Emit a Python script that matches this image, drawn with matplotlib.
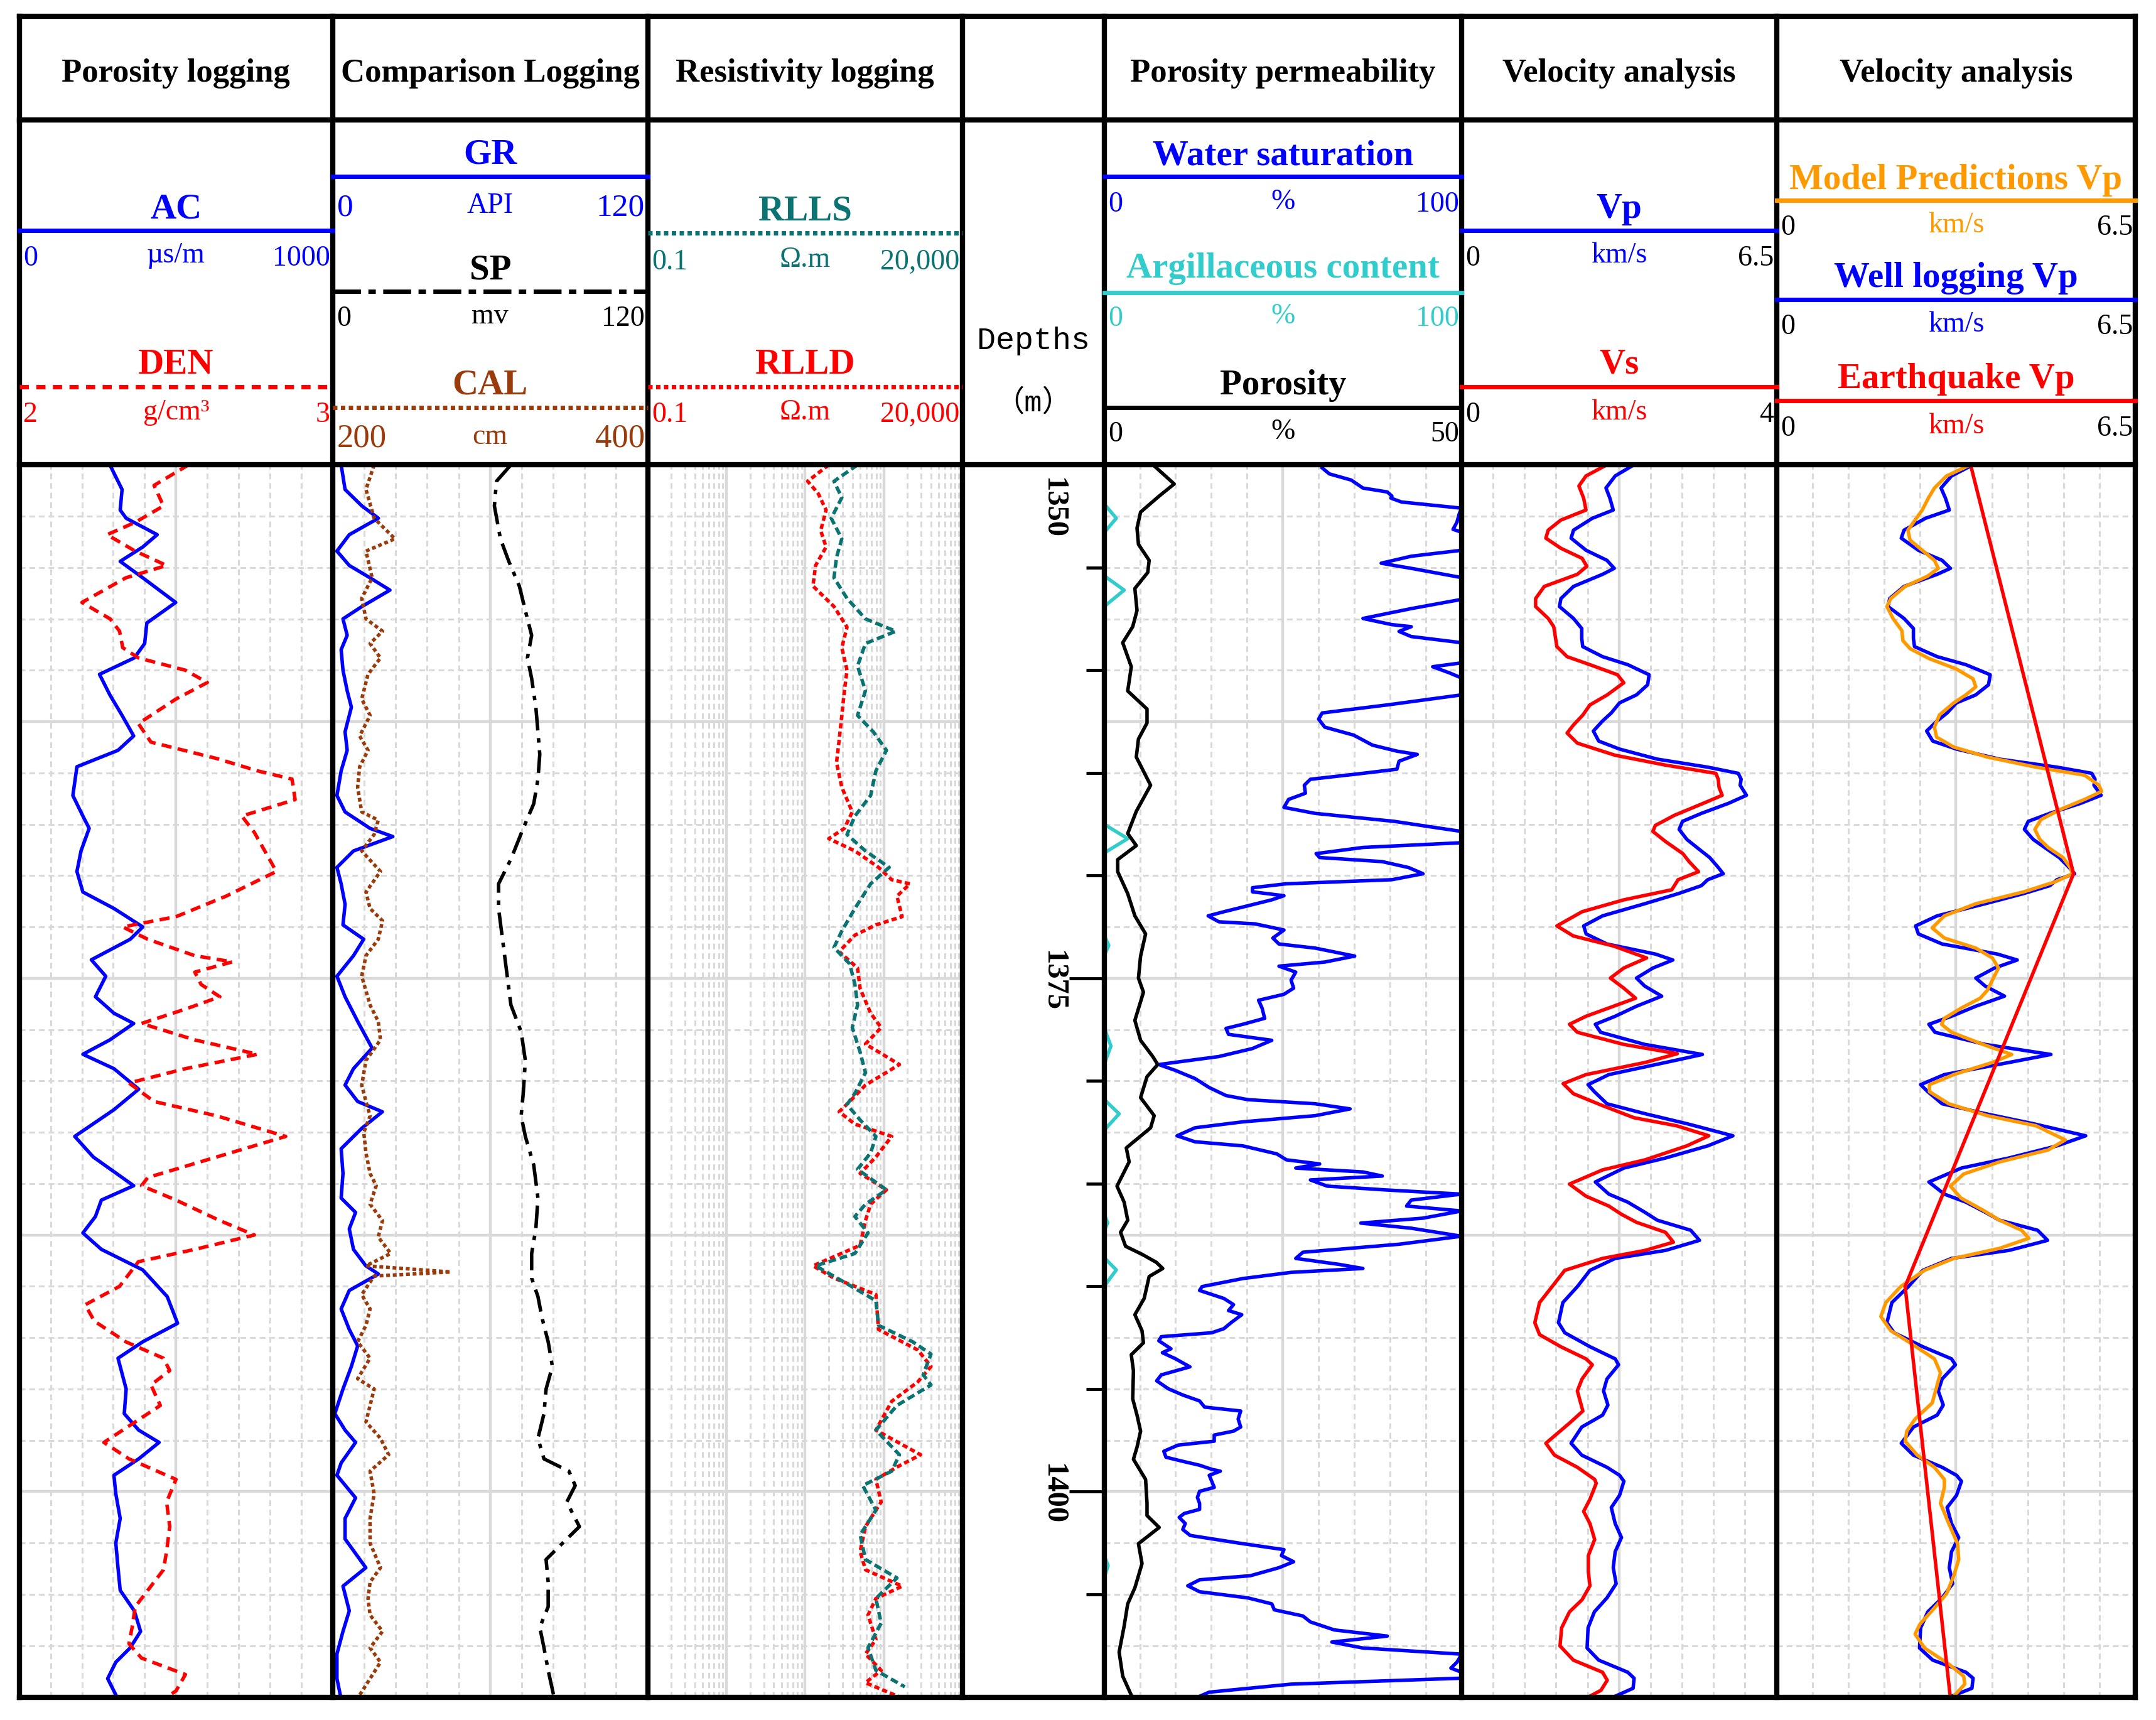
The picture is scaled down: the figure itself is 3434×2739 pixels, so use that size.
import numpy as np
import matplotlib
matplotlib.use("Agg")
import matplotlib.pyplot as plt
from matplotlib.ticker import MultipleLocator, FixedLocator, LogLocator

plt.rcParams['font.family'] = ['Liberation Serif', 'DejaVu Serif']
plt.rcParams['lines.solid_joinstyle'] = 'round'
plt.rcParams['lines.dash_joinstyle'] = 'round'

# ---------------- data: (depth m, value) ----------------
AC_LOG = [(1350.0, 289), (1351.2, 328), (1352.2, 322), (1352.6, 341), (1353.4, 440), (1354.0, 394),
          (1354.7, 322), (1355.5, 394), (1356.7, 499), (1357.7, 407), (1358.7, 400), (1359.4, 367),
          (1360.2, 256), (1361.2, 289), (1362.2, 328), (1363.2, 365), (1363.9, 315), (1364.7, 184),
          (1366.1, 171), (1367.1, 203), (1367.7, 223), (1368.8, 197), (1369.8, 184), (1370.8, 203),
          (1371.6, 302), (1372.5, 394), (1373.1, 354), (1374.1, 230), (1374.9, 276), (1375.9, 243),
          (1376.7, 302), (1377.2, 365), (1378.0, 289), (1378.7, 203), (1379.4, 302), (1380.4, 381),
          (1381.4, 302), (1382.7, 177), (1383.7, 236), (1385.1, 365), (1385.8, 262), (1386.6, 243),
          (1387.4, 203), (1388.2, 262), (1389.2, 394), (1390.5, 472), (1391.8, 505), (1392.7, 394),
          (1393.5, 315), (1395.0, 341), (1396.2, 335), (1397.0, 381), (1397.6, 446), (1398.4, 381),
          (1399.2, 302), (1400.1, 308), (1401.3, 322), (1402.5, 308), (1403.7, 315), (1404.8, 322),
          (1405.8, 367), (1406.8, 387), (1407.6, 354), (1408.3, 308), (1409.1, 282), (1410.1, 315)]

DEN_LOG = [(1350.0, 2.54), (1351.0, 2.43), (1352.0, 2.46), (1352.8, 2.37), (1353.4, 2.28), (1354.2, 2.37),
           (1354.9, 2.47), (1355.5, 2.34), (1356.7, 2.20), (1357.5, 2.29), (1358.1, 2.32), (1358.9, 2.33),
           (1359.4, 2.38), (1360.0, 2.53), (1360.6, 2.60), (1361.4, 2.50), (1362.6, 2.38), (1363.5, 2.42),
           (1364.3, 2.63), (1364.9, 2.76), (1365.3, 2.87), (1366.3, 2.88), (1367.1, 2.71), (1367.9, 2.75),
           (1369.8, 2.82), (1371.0, 2.66), (1372.0, 2.50), (1372.5, 2.33), (1373.1, 2.41), (1373.9, 2.56),
           (1374.2, 2.68), (1374.7, 2.56), (1375.3, 2.58), (1375.9, 2.64), (1376.5, 2.53), (1377.2, 2.39),
           (1378.0, 2.56), (1378.7, 2.76), (1379.4, 2.53), (1380.1, 2.35), (1381.0, 2.43), (1381.7, 2.63),
           (1382.7, 2.85), (1383.7, 2.63), (1384.7, 2.41), (1385.1, 2.39), (1385.8, 2.50), (1386.8, 2.64),
           (1387.5, 2.75), (1388.2, 2.56), (1388.8, 2.38), (1390.0, 2.32), (1390.9, 2.21), (1391.7, 2.24),
           (1392.7, 2.34), (1393.5, 2.46), (1394.1, 2.48), (1394.8, 2.42), (1395.8, 2.45), (1396.8, 2.35),
           (1397.6, 2.27), (1398.4, 2.35), (1399.4, 2.50), (1400.5, 2.47), (1401.7, 2.48), (1402.9, 2.47),
           (1403.8, 2.46), (1404.8, 2.41), (1405.6, 2.37), (1406.6, 2.36), (1407.4, 2.35), (1408.1, 2.39),
           (1408.9, 2.53), (1409.7, 2.50), (1410.1, 2.46)]

GR_LOG = [(1350.0, 3.2), (1351.2, 4.7), (1352.0, 11.1), (1352.6, 17.4), (1353.4, 6.3), (1354.2, 1.6),
          (1354.9, 6.3), (1355.5, 14.2), (1356.1, 21.8), (1356.9, 11.1), (1357.5, 3.9), (1358.3, 5.5),
          (1359.0, 3.2), (1360.0, 3.9), (1361.0, 5.5), (1361.8, 7.1), (1363.0, 4.7), (1363.9, 5.5),
          (1364.9, 3.2), (1366.1, 1.6), (1366.9, 4.7), (1367.7, 14.2), (1368.1, 22.9), (1368.8, 7.9),
          (1369.6, 1.6), (1370.4, 3.2), (1371.4, 4.7), (1372.4, 3.9), (1373.1, 11.8), (1373.9, 7.9),
          (1374.9, 1.6), (1375.9, 4.7), (1377.1, 9.5), (1378.4, 15.0), (1379.4, 7.9), (1380.2, 4.7),
          (1381.0, 9.5), (1381.5, 18.9), (1382.3, 11.1), (1383.3, 3.2), (1384.5, 3.9), (1385.7, 3.2),
          (1386.4, 8.7), (1387.2, 6.3), (1388.2, 7.9), (1389.0, 12.6), (1389.4, 17.4), (1390.2, 6.3),
          (1391.1, 3.2), (1392.1, 6.3), (1392.9, 9.5), (1393.9, 7.1), (1395.0, 3.9), (1396.2, 0.8),
          (1397.0, 4.7), (1397.6, 8.7), (1398.6, 3.2), (1399.2, 1.6), (1400.3, 8.7), (1401.3, 4.7),
          (1402.3, 4.7), (1403.7, 12.6), (1404.6, 3.9), (1405.8, 6.3), (1406.8, 3.9), (1407.9, 1.6),
          (1409.1, 1.6), (1410.1, 3.2)]

CAL_LOG = [(1350.0, 226.3), (1351.2, 221.1), (1352.6, 226.3), (1353.6, 239.5), (1354.2, 221.1),
           (1355.5, 225.0), (1356.5, 218.4), (1357.5, 221.1), (1358.1, 231.6), (1358.7, 223.7),
           (1359.4, 230.3), (1360.2, 222.4), (1361.4, 218.4), (1362.2, 223.7), (1363.2, 217.1),
           (1363.9, 222.4), (1364.7, 217.1), (1365.7, 215.8), (1366.9, 218.4), (1367.3, 228.9),
           (1368.0, 226.3), (1368.8, 218.4), (1369.8, 230.3), (1370.8, 221.1), (1371.6, 223.7),
           (1372.2, 231.6), (1373.1, 228.9), (1373.9, 221.1), (1374.9, 218.4), (1376.3, 223.7),
           (1377.1, 228.9), (1378.0, 230.3), (1379.0, 221.1), (1380.2, 218.4), (1381.0, 221.1),
           (1381.7, 223.7), (1382.5, 219.7), (1383.5, 221.1), (1384.5, 223.7), (1385.1, 227.6),
           (1386.0, 223.7), (1386.8, 231.6), (1387.6, 228.9), (1388.4, 236.8), (1389.0, 221.1),
           (1389.3, 275.0), (1389.5, 226.3), (1390.4, 218.4), (1391.1, 223.7), (1391.9, 221.1),
           (1392.7, 215.8), (1393.5, 223.7), (1394.5, 215.8), (1395.0, 226.3), (1395.8, 223.7),
           (1396.6, 221.1), (1397.4, 230.3), (1398.2, 235.5), (1399.0, 223.7), (1400.1, 226.3),
           (1401.3, 223.7), (1402.5, 223.7), (1403.7, 230.3), (1404.4, 223.7), (1405.2, 222.4),
           (1406.0, 223.7), (1406.8, 231.6), (1407.6, 223.7), (1408.3, 230.3), (1409.1, 223.7),
           (1409.9, 217.1)]

SP_LOG = [(1350.0, 67.9), (1350.8, 62.4), (1352.0, 61.6), (1353.6, 63.9), (1354.7, 67.1), (1355.9, 71.1),
          (1357.1, 73.4), (1358.3, 75.8), (1359.4, 74.2), (1360.4, 75.8), (1361.8, 77.4), (1363.0, 78.2),
          (1364.1, 78.9), (1365.3, 78.2), (1366.5, 76.6), (1367.7, 72.6), (1369.2, 67.9), (1370.4, 63.2),
          (1371.6, 63.2), (1373.1, 64.7), (1374.7, 66.3), (1376.3, 67.9), (1377.6, 71.8), (1379.0, 73.4),
          (1380.6, 72.6), (1381.7, 71.8), (1382.7, 73.4), (1384.1, 76.6), (1385.7, 78.2), (1387.2, 77.4),
          (1388.4, 75.8), (1389.6, 75.8), (1390.5, 78.2), (1391.5, 79.7), (1392.7, 82.1), (1393.9, 83.7),
          (1395.0, 81.3), (1396.2, 80.5), (1397.4, 78.2), (1398.4, 80.5), (1399.0, 90.0), (1399.7, 92.4),
          (1400.5, 89.2), (1401.7, 94.0), (1402.5, 87.6), (1403.3, 81.3), (1404.4, 82.1), (1405.6, 82.1),
          (1406.6, 78.9), (1407.6, 80.5), (1408.7, 82.1), (1410.1, 84.5)]

RLLD_LOG = [(1350.0, 20.0), (1350.8, 10.8), (1351.4, 14.7), (1352.2, 18.5), (1353.2, 15.8), (1354.0, 18.5),
            (1354.9, 13.6), (1355.9, 12.6), (1356.9, 23.3), (1357.9, 34.1), (1358.9, 29.3), (1360.0, 34.1),
            (1361.0, 31.6), (1362.2, 29.3), (1363.4, 27.1), (1364.5, 25.1), (1365.7, 29.3), (1366.9, 39.8),
            (1367.7, 31.6), (1368.2, 20.0), (1368.8, 43.0), (1369.6, 85.8), (1370.2, 126), (1370.4, 215),
            (1371.0, 147), (1372.0, 171), (1372.4, 79.4), (1372.9, 43.0), (1373.7, 27.1), (1374.5, 46.4),
            (1375.5, 50.1), (1376.7, 68.1), (1377.4, 92.6), (1378.2, 58.5), (1379.2, 158), (1380.2, 58.5),
            (1381.0, 36.9), (1381.5, 27.1), (1382.1, 43.0), (1382.7, 126), (1383.7, 79.4), (1384.5, 50.1),
            (1385.3, 108), (1386.0, 68.1), (1386.8, 58.5), (1388.0, 50.1), (1389.0, 12.6), (1389.6, 23.3),
            (1390.4, 79.4), (1392.1, 85.8), (1393.1, 271), (1393.9, 398), (1394.65, 271), (1395.6, 126),
            (1397.0, 79.4), (1398.2, 293), (1398.8, 147), (1399.4, 79.4), (1400.5, 92.6), (1401.7, 58.5),
            (1402.9, 50.1), (1403.8, 58.5), (1404.6, 171), (1405.2, 79.4), (1406.0, 63.1), (1407.2, 79.4),
            (1407.9, 58.5), (1408.7, 92.6), (1409.3, 58.5), (1410.1, 185)]

RLLS_LOG = [(1350.0, 46.4), (1350.8, 23.3), (1351.6, 29.3), (1352.6, 21.5), (1353.6, 29.3), (1354.5, 25.1),
            (1355.5, 23.3), (1356.5, 34.1), (1357.5, 58.5), (1358.1, 142), (1358.7, 58.5), (1359.8, 46.4),
            (1361.0, 58.5), (1362.2, 46.4), (1363.0, 73.6), (1363.9, 108), (1364.9, 79.4), (1366.1, 68.1),
            (1367.1, 43.0), (1368.0, 34.1), (1368.8, 58.5), (1369.6, 117), (1370.4, 68.1), (1371.6, 43.0),
            (1372.7, 29.3), (1373.5, 23.3), (1374.3, 36.9), (1375.3, 43.0), (1376.3, 46.4), (1377.4, 39.8),
            (1378.6, 50.1), (1379.6, 58.5), (1380.6, 43.0), (1381.15, 34.1), (1381.9, 50.1), (1382.7, 79.4),
            (1383.5, 68.1), (1384.3, 46.4), (1385.3, 108), (1386.0, 58.5), (1386.6, 43.0), (1387.4, 63.1),
            (1388.4, 43.0), (1389.0, 13.6), (1389.8, 31.6), (1390.7, 79.4), (1391.9, 85.8), (1392.7, 233),
            (1393.3, 398), (1394.3, 316), (1394.8, 398), (1395.8, 147), (1397.0, 79.4), (1398.2, 158),
            (1399.0, 126), (1399.7, 54.1), (1400.9, 79.4), (1402.1, 50.1), (1403.3, 58.5), (1404.2, 147),
            (1405.2, 79.4), (1406.4, 92.6), (1407.6, 63.1), (1408.7, 79.4), (1409.5, 185)]

SW_LOG = [(1350.15, 61.0), (1350.44, 63.0), (1350.74, 69.1), (1351.13, 72.4), (1351.32, 79.2), (1351.52, 80.5),
          (1351.62, 80.2), (1351.81, 83.2), (1352.11, 100), (1352.4, 99.3), (1352.79, 98.7), (1353.14, 97.6),
          (1353.28, 100), (1354.16, 100), (1354.45, 85.9), (1354.79, 77.5), (1355.04, 85.9), (1355.49, 100),
          (1356.55, 100), (1357.0, 85.9), (1357.48, 72.4), (1357.78, 80.5), (1357.88, 85.9), (1358.11, 82.5),
          (1358.36, 85.9), (1358.66, 100), (1359.64, 100), (1359.83, 91.9), (1360.13, 96.6), (1360.38, 100),
          (1361.2, 100), (1361.69, 79.2), (1362.08, 61.0), (1362.38, 60.0), (1362.77, 61.7), (1363.16, 69.8),
          (1363.65, 75.1), (1363.94, 81.9), (1364.1, 87.6), (1364.43, 82.5), (1364.82, 81.9), (1365.02, 72.4),
          (1365.31, 57.7), (1365.6, 56.0), (1365.99, 56.3), (1366.29, 51.6), (1366.68, 50.3), (1366.97, 59.0),
          (1367.36, 81.2), (1367.66, 92.6), (1367.85, 100), (1368.4, 100), (1368.63, 72.4), (1368.93, 59.3),
          (1369.12, 60.3), (1369.32, 77.8), (1369.61, 85.2), (1369.91, 89.2), (1370.2, 80.5), (1370.4, 50.9),
          (1370.59, 41.5), (1370.79, 41.5), (1370.98, 50.3), (1371.18, 46.9), (1371.47, 40.2), (1371.76, 33.5),
          (1371.96, 29.1), (1372.25, 32.1), (1372.35, 42.2), (1372.65, 50.3), (1373.04, 47.2), (1373.33, 48.9),
          (1373.53, 59.0), (1373.92, 70.1), (1374.21, 61.7), (1374.41, 48.9), (1374.7, 53.6), (1375.09, 52.3),
          (1375.48, 53.0), (1375.78, 50.3), (1376.07, 43.2), (1376.46, 44.2), (1376.95, 44.9), (1377.24, 38.8),
          (1377.44, 34.1), (1377.73, 34.8), (1378.02, 46.9), (1378.42, 41.5), (1378.81, 32.1), (1379.2, 15.3),
          (1379.49, 20.0), (1379.88, 25.4), (1380.32, 29.4), (1380.71, 34.1), (1380.91, 40.2), (1381.11, 59.0),
          (1381.36, 68.8), (1381.69, 59.0), (1381.99, 38.8), (1382.28, 25.4), (1382.67, 20.4), (1382.96, 25.4),
          (1383.16, 38.8), (1383.55, 48.3), (1383.84, 51.0), (1384.04, 60.3), (1384.24, 53.6), (1384.43, 72.4),
          (1384.63, 77.8), (1384.82, 57.7), (1385.12, 62.4), (1385.31, 79.2), (1385.51, 100), (1385.8, 85.9),
          (1386.09, 84.6), (1386.33, 100), (1386.68, 89.2), (1386.92, 71.8), (1387.17, 85.9), (1387.56, 100),
          (1387.95, 82.5), (1388.34, 55.6), (1388.64, 53.6), (1388.93, 65.7), (1389.13, 72.4), (1389.32, 52.3),
          (1389.62, 38.8), (1390.01, 27.4), (1390.2, 26.7), (1390.59, 33.5), (1390.89, 36.2), (1391.18, 34.8),
          (1391.38, 38.5), (1391.77, 35.5), (1392.06, 33.5), (1392.26, 30.1), (1392.45, 16.0), (1392.65, 15.3),
          (1393.04, 18.7), (1393.23, 16.3), (1393.53, 20.0), (1393.92, 24.0), (1394.31, 16.0), (1394.6, 14.7),
          (1394.99, 18.0), (1395.29, 22.0), (1395.58, 26.7), (1395.88, 28.1), (1396.07, 38.2), (1396.46, 37.5),
          (1396.85, 38.2), (1397.05, 36.2), (1397.24, 30.8), (1397.54, 30.8), (1397.73, 20.7), (1398.03, 16.7),
          (1398.32, 17.3), (1398.52, 22.0), (1398.71, 26.7), (1398.91, 30.1), (1399.0, 32.5), (1399.2, 29.4),
          (1399.49, 30.1), (1399.79, 30.8), (1399.98, 26.7), (1400.28, 26.1), (1400.57, 26.7), (1400.86, 26.7),
          (1401.06, 22.4), (1401.25, 21.0), (1401.55, 22.7), (1401.84, 22.0), (1402.13, 24.1), (1402.53, 38.8),
          (1402.82, 50.3), (1403.11, 49.6), (1403.41, 53.0), (1403.7, 48.9), (1404.09, 40.9), (1404.29, 26.7),
          (1404.58, 23.4), (1404.87, 26.7), (1405.17, 40.2), (1405.46, 46.9), (1405.75, 47.6), (1406.05, 55.6),
          (1406.34, 57.7), (1406.73, 64.4), (1407.03, 79.2), (1407.32, 63.7), (1407.61, 72.4), (1407.91, 100),
          (1408.3, 98.7), (1408.59, 97.0), (1408.79, 100), (1409.08, 100), (1409.37, 52.3), (1409.76, 29.4),
          (1410.06, 25.4)]

CLAY_LOG = [(1350.0, 0), (1351.9, 0), (1352.6, 3.4), (1353.3, 0), (1355.4, 0), (1356.1, 5.6), (1356.9, 0),
            (1367.5, 0), (1368.2, 6.6), (1368.9, 0), (1372.9, 0), (1373.4, 1.3), (1373.9, 0), (1377.4, 0),
            (1378.3, 1.9), (1379.2, 0), (1380.9, 0), (1381.6, 4.2), (1382.4, 0), (1386.5, 0), (1386.9, 1.0),
            (1387.3, 0), (1388.6, 0), (1389.2, 3.4), (1390.0, 0), (1403.1, 0), (1403.6, 1.1), (1404.2, 0),
            (1410.0, 0)]

POR_LOG = [(1350.05, 7.0), (1350.93, 9.8), (1351.52, 7.7), (1352.3, 5.1), (1353.08, 4.6), (1353.87, 4.8),
           (1354.65, 6.3), (1355.24, 6.1), (1356.02, 4.3), (1357.09, 4.6), (1357.88, 4.0), (1358.66, 2.6),
           (1359.83, 3.8), (1361.01, 3.3), (1361.89, 6.0), (1362.57, 6.0), (1363.35, 4.8), (1364.23, 4.5),
           (1365.6, 6.5), (1366.87, 4.5), (1367.95, 3.3), (1368.54, 4.5), (1369.22, 1.9), (1369.81, 1.9),
           (1370.88, 3.3), (1371.96, 4.3), (1372.84, 5.8), (1373.92, 5.1), (1374.99, 4.8), (1375.68, 5.5),
           (1377.05, 4.3), (1378.02, 5.1), (1378.81, 6.8), (1379.2, 7.5), (1379.79, 6.0), (1380.81, 5.1),
           (1381.69, 7.0), (1382.28, 6.5), (1383.26, 3.1), (1383.94, 3.5), (1385.12, 1.8), (1385.9, 2.8),
           (1386.78, 3.3), (1387.37, 2.3), (1388.05, 3.0), (1388.44, 5.3), (1388.83, 7.3), (1389.13, 8.2),
           (1389.52, 6.3), (1390.59, 5.6), (1391.38, 4.3), (1392.16, 5.3), (1392.75, 5.5), (1393.33, 3.8),
           (1394.11, 4.1), (1395.48, 4.0), (1396.27, 4.6), (1397.05, 5.1), (1397.83, 4.6), (1398.42, 4.1),
           (1399.4, 5.8), (1400.57, 6.0), (1401.16, 6.0), (1401.74, 7.7), (1402.53, 4.8), (1403.5, 5.3),
           (1404.68, 4.3), (1405.46, 3.3), (1406.54, 2.8), (1407.81, 2.1), (1408.98, 2.6), (1410.06, 4.0)]

VP_LOG = [(1350.05, 3.52), (1350.54, 3.17), (1351.13, 2.98), (1351.62, 3.06), (1352.2, 3.13), (1352.6, 2.70),
          (1353.18, 2.31), (1353.57, 2.26), (1354.16, 2.57), (1354.65, 3.00), (1355.04, 3.15), (1355.33, 2.91),
          (1355.92, 2.31), (1356.51, 2.05), (1356.9, 2.02), (1357.48, 2.31), (1357.97, 2.48), (1358.46, 2.48),
          (1358.85, 2.50), (1359.34, 2.91), (1359.73, 3.43), (1360.22, 3.87), (1360.71, 3.84), (1361.2, 3.61),
          (1361.59, 3.26), (1362.08, 3.09), (1362.47, 2.91), (1362.96, 2.72), (1363.45, 2.83), (1363.84, 3.26),
          (1364.33, 4.04), (1364.72, 5.08), (1365.02, 5.71), (1365.31, 5.77), (1365.6, 5.75), (1366.09, 5.88),
          (1366.48, 5.51), (1366.97, 4.95), (1367.36, 4.56), (1367.75, 4.49), (1368.24, 4.65), (1368.73, 4.91),
          (1369.12, 5.12), (1369.61, 5.30), (1369.91, 5.40), (1370.2, 5.08), (1370.49, 4.95), (1370.88, 4.47),
          (1371.37, 3.78), (1371.96, 2.91), (1372.45, 2.52), (1372.84, 2.57), (1373.33, 3.00), (1373.82, 4.00),
          (1374.11, 4.36), (1374.5, 3.95), (1374.99, 3.61), (1375.38, 3.78), (1375.87, 4.13), (1376.36, 3.61),
          (1376.85, 3.17), (1377.24, 2.76), (1377.63, 2.87), (1378.22, 3.78), (1378.71, 4.97), (1379.1, 4.21),
          (1379.69, 3.04), (1380.18, 2.61), (1380.52, 2.74), (1381.11, 3.00), (1381.59, 3.78), (1382.08, 4.65),
          (1382.67, 5.60), (1383.16, 5.08), (1383.75, 4.21), (1384.24, 3.35), (1384.92, 2.76), (1385.51, 3.04),
          (1385.9, 3.43), (1386.39, 3.78), (1386.78, 4.04), (1387.27, 4.73), (1387.76, 4.91), (1388.25, 4.21),
          (1388.64, 3.17), (1389.22, 2.65), (1390.01, 2.39), (1390.79, 2.09), (1391.77, 2.00), (1392.26, 2.13),
          (1392.94, 2.65), (1393.53, 3.17), (1393.82, 3.24), (1394.51, 3.00), (1395.09, 2.93), (1395.78, 3.02),
          (1396.27, 2.91), (1396.85, 2.48), (1397.64, 2.26), (1398.22, 2.48), (1398.81, 3.00), (1399.2, 3.26),
          (1399.49, 3.35), (1400.18, 3.26), (1400.77, 3.09), (1401.55, 3.17), (1402.23, 3.30), (1402.92, 3.17),
          (1403.7, 3.13), (1404.48, 3.19), (1405.17, 3.00), (1405.85, 2.74), (1406.63, 2.61), (1407.61, 2.59),
          (1408.2, 2.83), (1408.79, 3.43), (1409.08, 3.56), (1409.57, 3.54), (1409.96, 3.17)]

VS_LOG = [(1350.05, 1.82), (1350.54, 1.58), (1351.03, 1.49), (1351.62, 1.55), (1352.2, 1.58), (1352.69, 1.26),
          (1353.18, 1.10), (1353.57, 1.07), (1354.06, 1.26), (1354.55, 1.53), (1354.94, 1.59), (1355.33, 1.47),
          (1355.92, 1.05), (1356.51, 0.94), (1356.9, 0.94), (1357.48, 1.10), (1357.88, 1.17), (1358.36, 1.19),
          (1358.85, 1.21), (1359.34, 1.34), (1359.73, 1.63), (1360.22, 1.98), (1360.61, 2.06), (1361.2, 1.85),
          (1361.69, 1.63), (1362.18, 1.54), (1362.67, 1.42), (1363.06, 1.34), (1363.55, 1.47), (1364.14, 1.95),
          (1364.62, 2.59), (1365.02, 3.23), (1365.31, 3.26), (1365.7, 3.27), (1366.09, 3.31), (1366.48, 3.07),
          (1367.07, 2.70), (1367.56, 2.46), (1367.85, 2.43), (1368.34, 2.59), (1368.93, 2.81), (1369.32, 2.89),
          (1369.81, 3.01), (1370.2, 2.75), (1370.69, 2.67), (1371.18, 2.06), (1371.76, 1.53), (1372.45, 1.21),
          (1372.94, 1.42), (1373.43, 1.93), (1374.01, 2.35), (1374.5, 2.06), (1374.99, 1.89), (1375.48, 2.06),
          (1375.97, 2.21), (1376.36, 1.93), (1376.85, 1.58), (1377.24, 1.37), (1377.63, 1.47), (1378.22, 2.06),
          (1378.67, 2.74), (1379.1, 2.33), (1379.69, 1.58), (1380.13, 1.29), (1380.62, 1.42), (1381.2, 1.79),
          (1381.79, 2.19), (1382.18, 2.73), (1382.67, 3.14), (1383.16, 2.86), (1383.84, 2.33), (1384.33, 1.79),
          (1385.02, 1.37), (1385.61, 1.58), (1386.09, 1.87), (1386.49, 2.03), (1386.88, 2.22), (1387.37, 2.59),
          (1387.85, 2.69), (1388.25, 2.33), (1388.64, 1.79), (1389.22, 1.31), (1390.01, 1.15), (1390.79, 0.99),
          (1391.77, 0.93), (1392.35, 0.99), (1392.94, 1.26), (1393.53, 1.58), (1393.82, 1.66), (1394.51, 1.53),
          (1395.09, 1.47), (1396.07, 1.54), (1396.66, 1.37), (1397.64, 1.07), (1398.22, 1.18), (1398.81, 1.47),
          (1399.4, 1.69), (1399.59, 1.71), (1400.37, 1.63), (1400.96, 1.55), (1401.55, 1.63), (1402.33, 1.69),
          (1403.11, 1.61), (1403.9, 1.61), (1404.58, 1.63), (1405.26, 1.53), (1405.85, 1.37), (1406.63, 1.27),
          (1407.51, 1.25), (1408.2, 1.42), (1408.79, 1.79), (1409.18, 1.85), (1409.67, 1.77), (1410.06, 1.58)]

MODEL_VP_LOG = [(1350.05, 3.47), (1350.54, 3.08), (1351.13, 2.86), (1351.62, 2.75), (1352.2, 2.64), (1352.69, 2.51),
                (1353.18, 2.38), (1353.67, 2.42), (1354.16, 2.64), (1354.65, 2.86), (1355.04, 2.93), (1355.43, 2.73),
                (1355.92, 2.33), (1356.51, 2.07), (1356.9, 2.00), (1357.48, 2.11), (1358.07, 2.27), (1358.56, 2.29),
                (1358.95, 2.42), (1359.44, 2.77), (1359.93, 3.25), (1360.42, 3.56), (1360.81, 3.61), (1361.2, 3.43),
                (1361.59, 3.21), (1362.18, 2.95), (1362.77, 2.86), (1363.26, 2.90), (1363.74, 3.21), (1364.23, 3.82),
                (1364.72, 4.70), (1365.11, 5.58), (1365.6, 5.84), (1365.9, 5.89), (1366.29, 5.58), (1366.78, 5.14),
                (1367.27, 4.79), (1367.75, 4.68), (1368.24, 4.77), (1368.63, 4.92), (1369.12, 5.19), (1369.61, 5.32),
                (1369.91, 5.36), (1370.3, 5.05), (1370.79, 4.48), (1371.37, 3.61), (1371.96, 3.04), (1372.55, 2.82),
                (1373.04, 3.04), (1373.53, 3.61), (1374.01, 3.91), (1374.5, 4.02), (1375.09, 3.91), (1375.58, 3.82),
                (1375.97, 3.69), (1376.46, 3.34), (1376.95, 3.04), (1377.24, 2.99), (1377.63, 3.17), (1378.22, 3.74),
                (1378.71, 4.26), (1379.1, 3.91), (1379.69, 3.21), (1380.18, 2.77), (1380.52, 2.77), (1381.11, 3.12),
                (1381.69, 3.82), (1382.18, 4.70), (1382.87, 5.23), (1383.36, 4.92), (1383.94, 4.04), (1384.53, 3.39),
                (1385.12, 3.15), (1385.7, 3.34), (1386.29, 3.74), (1386.78, 4.04), (1387.27, 4.44), (1387.66, 4.57),
                (1388.15, 4.04), (1388.64, 3.21), (1389.22, 2.68), (1390.01, 2.25), (1390.79, 1.98), (1391.47, 1.89),
                (1392.16, 2.07), (1392.75, 2.42), (1393.53, 2.86), (1394.21, 2.97), (1394.9, 2.90), (1395.68, 2.82),
                (1396.46, 2.51), (1397.05, 2.36), (1397.54, 2.33), (1398.22, 2.55), (1398.81, 2.86), (1399.4, 3.04),
                (1399.79, 3.04), (1400.57, 2.97), (1401.55, 3.12), (1402.53, 3.28), (1403.31, 3.30), (1404.09, 3.21),
                (1404.97, 3.08), (1405.66, 2.86), (1406.44, 2.60), (1406.93, 2.51), (1407.61, 2.68), (1408.39, 3.12),
                (1408.98, 3.39), (1409.37, 3.41), (1409.96, 3.21)]

QUAKE_VP_LOG = [(1350.05, 3.52), (1369.91, 5.38), (1390.01, 2.33), (1410.06, 3.15)]

DEPTH_LABELS = [1350, 1375, 1400]

TITLES = ['Porosity logging', 'Comparison Logging', 'Resistivity logging', '',
          'Porosity permeability', 'Velocity analysis', 'Velocity analysis']

# ---------------- colours / styles ----------------
BLUE, RED, BLACK = '#0000ff', '#ff0000', '#000000'
BROWN, TEAL, CYAN, ORANGE = '#9a3b0c', '#0b7473', '#33cccc', '#ff9900'
GRID = '#d9d9d9'

# ---------------- layout (in reference pixel units) ----------------
W_REF = 1568.0
H_REF = W_REF * 2739 / 3434
COLS = [14, 242, 471, 700, 803, 1063, 1292, 1553]
TOP, TITLE_BOTTOM, HEAD_BOTTOM, BOTTOM = 12, 87, 338, 1234
DEPTH_TOP, DEPTH_BOTTOM = 1350, 1410


def fx(x):
    return x / W_REF


def fy(y):
    return 1 - y / H_REF


def unzip(pairs):
    d, v = zip(*pairs)
    return np.array(d), np.array(v)


fig = plt.figure(figsize=(34.34, 27.39), dpi=100)


def track_axes(i):
    left, right = COLS[i], COLS[i + 1]
    return fig.add_axes([fx(left), fy(BOTTOM), fx(right) - fx(left), fy(HEAD_BOTTOM) - fy(BOTTOM)])


def style_track(ax, xlim, log=False):
    ax.set_xlim(*xlim)
    ax.set_ylim(DEPTH_BOTTOM, DEPTH_TOP)
    if log:
        ax.set_xscale('log')
        ax.set_xlim(*xlim)
        ax.xaxis.set_major_locator(LogLocator(base=10, numticks=20))
        ax.xaxis.set_minor_locator(LogLocator(base=10, subs=np.arange(2, 10), numticks=20))
    else:
        span = xlim[1] - xlim[0]
        ax.xaxis.set_major_locator(FixedLocator([xlim[0] + span / 2]))
        ax.xaxis.set_minor_locator(MultipleLocator(span / 10))
    ax.yaxis.set_major_locator(MultipleLocator(12.5))
    ax.yaxis.set_minor_locator(MultipleLocator(2.5))
    ax.grid(True, which='major', color=GRID, lw=3.2, ls='-')
    ax.grid(True, which='minor', color=GRID, lw=2.2, ls=(0, (3, 2)))
    ax.tick_params(which='both', length=0, labelbottom=False, labelleft=False,
                   labeltop=False, labelright=False)
    ax.set_axisbelow(True)
    for s in ax.spines.values():
        s.set_visible(False)


def twin(ax, xlim):
    t = ax.twiny()
    t.set_xlim(*xlim)
    t.tick_params(which='both', length=0, labeltop=False, labelbottom=False)
    for s in t.spines.values():
        s.set_visible(False)
    return t


LW = 4.0

# 1. Porosity logging
ax1 = track_axes(0)
style_track(ax1, (0, 1000))
d, v = unzip(AC_LOG)
ax1.plot(v, d, color=BLUE, lw=LW)
t1 = twin(ax1, (2, 3))
d, v = unzip(DEN_LOG)
t1.plot(v, d, color=RED, lw=LW, ls=(0, (2.9, 1.8)))

# 2. Comparison logging
ax2 = track_axes(1)
style_track(ax2, (0, 120))
d, v = unzip(GR_LOG)
ax2.plot(v, d, color=BLUE, lw=LW)
d, v = unzip(SP_LOG)
ax2.plot(v, d, color=BLACK, lw=LW, ls=(0, (6.5, 2.2, 1.3, 2.2)))
t2 = twin(ax2, (200, 400))
d, v = unzip(CAL_LOG)
t2.plot(v, d, color=BROWN, lw=LW, ls=(0, (1.1, 0.8)))

# 3. Resistivity logging
ax3 = track_axes(2)
style_track(ax3, (0.1, 1000), log=True)
d, v = unzip(RLLD_LOG)
ax3.plot(v, d, color=RED, lw=LW, ls=(0, (1.5, 0.9)))
d, v = unzip(RLLS_LOG)
ax3.plot(v, d, color=TEAL, lw=LW, ls=(0, (2.2, 1.1)))

# 4. Depth track
axd = track_axes(3)
axd.set_ylim(DEPTH_BOTTOM, DEPTH_TOP)
axd.set_xlim(0, 1)
axd.set_xticks([])
for s in axd.spines.values():
    s.set_visible(False)
axd.yaxis.tick_right()
axd.set_yticks([1375, 1400])
axd.set_yticks([1355, 1360, 1365, 1370, 1380, 1385, 1390, 1395, 1405], minor=True)
axd.tick_params(axis='y', which='major', direction='in', length=40, width=3.5,
                labelright=False, labelleft=False)
axd.tick_params(axis='y', which='minor', direction='in', length=21, width=3.5)
xlab = (765.6 - COLS[3]) / (COLS[4] - COLS[3])
for dep in DEPTH_LABELS:
    if dep == DEPTH_TOP:
        axd.text(xlab, dep + 0.6, str(dep), rotation=270, ha='center', va='top',
                 fontsize=35, fontweight='bold', transform=axd.get_yaxis_transform())
    else:
        axd.text(xlab, dep + 0.1, str(dep), rotation=270, ha='center', va='center',
                 fontsize=35, fontweight='bold', transform=axd.get_yaxis_transform())

# 5. Porosity permeability
ax5 = track_axes(4)
style_track(ax5, (0, 100))
d, v = unzip(CLAY_LOG)
ax5.plot(v, d, color=CYAN, lw=LW)
d, v = unzip(SW_LOG)
ax5.plot(v, d, color=BLUE, lw=LW)
t5 = twin(ax5, (0, 50))
d, v = unzip(POR_LOG)
t5.plot(v, d, color=BLACK, lw=LW)

# 6. Velocity analysis (Vp / Vs)
ax6 = track_axes(5)
style_track(ax6, (0, 6.5))
d, v = unzip(VP_LOG)
ax6.plot(v, d, color=BLUE, lw=LW)
t6 = twin(ax6, (0, 4))
d, v = unzip(VS_LOG)
t6.plot(v, d, color=RED, lw=LW)

# 7. Velocity analysis (model / well / earthquake)
ax7 = track_axes(6)
style_track(ax7, (0, 6.5))
d, v = unzip(VP_LOG)
ax7.plot(v, d, color=BLUE, lw=LW)
d, v = unzip(MODEL_VP_LOG)
ax7.plot(v, d, color=ORANGE, lw=LW)
d, v = unzip(QUAKE_VP_LOG)
ax7.plot(v, d, color=RED, lw=LW)

# ---------------- frame and header ----------------
ov = fig.add_axes([0, 0, 1, 1])
ov.set_xlim(0, W_REF)
ov.set_ylim(H_REF, 0)
ov.axis('off')
ov.set_zorder(10)

FRAME_LW = 6
for y in (TOP, TITLE_BOTTOM, HEAD_BOTTOM, BOTTOM):
    ov.plot([COLS[0], COLS[-1]], [y, y], color=BLACK, lw=FRAME_LW, solid_capstyle='projecting')
for x in COLS:
    ov.plot([x, x], [TOP, BOTTOM], color=BLACK, lw=FRAME_LW, solid_capstyle='projecting')

for i, title in enumerate(TITLES):
    if title:
        ov.text((COLS[i] + COLS[i + 1]) / 2, 59.5, title, ha='center', va='baseline',
                fontsize=38, fontweight='bold')


def header_curve(i, name, color, ls, y_name, y_line, y_scale, scale, colors,
                 num_size=33, unit_size=33):
    left, right = COLS[i], COLS[i + 1]
    cx = (left + right) / 2
    ov.text(cx, y_name, name, color=color, ha='center', va='baseline', fontsize=41, fontweight='bold')
    ov.plot([left, right], [y_line, y_line], color=color, lw=5, ls=ls)
    ov.text(left + 3, y_scale, scale[0], color=colors[0], ha='left', va='baseline', fontsize=num_size)
    ov.text(cx, y_scale - 2, scale[1], color=colors[1], ha='center', va='baseline', fontsize=unit_size)
    ov.text(right - 2, y_scale, scale[2], color=colors[2], ha='right', va='baseline', fontsize=num_size)


DEN_DASH = (0, (2.1, 1.7))
DOTS = (0, (1.0, 0.8))
SP_DASH = (0, (6.4, 1.7, 1.7, 1.7))

header_curve(0, 'AC', BLUE, '-', 158.5, 167.4, 193, ('0', 'µs/m', '1000'), (BLUE,) * 3)
header_curve(0, 'DEN', RED, DEN_DASH, 271.5, 281.4, 307, ('2', 'g/cm³', '3'), (RED,) * 3)
header_curve(1, 'GR', BLUE, '-', 119, 128.4, 157, ('0', 'API', '120'), (BLUE,) * 3, num_size=37)
header_curve(1, 'SP', BLACK, SP_DASH, 202.8, 212, 237, ('0', 'mv', '120'), (BLACK,) * 3)
header_curve(1, 'CAL', BROWN, DOTS, 286.7, 296.5, 325, ('200', 'cm', '400'), (BROWN,) * 3, num_size=38)
header_curve(2, 'RLLS', TEAL, DOTS, 160, 169.5, 196, ('0.1', 'Ω.m', '20,000'), (TEAL,) * 3)
header_curve(2, 'RLLD', RED, DOTS, 271.5, 281.4, 307, ('0.1', 'Ω.m', '20,000'), (RED,) * 3)
header_curve(4, 'Water saturation', BLUE, '-', 120, 128.4, 154, ('0', '%', '100'), (BLUE,) * 3)
header_curve(4, 'Argillaceous content', CYAN, '-', 201.6, 212.6, 237, ('0', '%', '100'), (CYAN,) * 3)
header_curve(4, 'Porosity', BLACK, '-', 286.7, 296.5, 321, ('0', '%', '50'), (BLACK,) * 3)
header_curve(5, 'Vp', BLUE, '-', 158.5, 167.4, 193, ('0', 'km/s', '6.5'), (BLACK, BLUE, BLACK))
header_curve(5, 'Vs', RED, '-', 271.5, 281.4, 307, ('0', 'km/s', '4'), (BLACK, RED, BLACK))
header_curve(6, 'Model Predictions Vp', ORANGE, '-', 137.5, 145.7, 171, ('0', 'km/s', '6.5'),
             (BLACK, ORANGE, BLACK))
header_curve(6, 'Well logging Vp', BLUE, '-', 208.6, 218, 243, ('0', 'km/s', '6.5'), (BLACK, BLUE, BLACK))
header_curve(6, 'Earthquake Vp', RED, '-', 282, 291.4, 317, ('0', 'km/s', '6.5'), (BLACK, RED, BLACK))

dcx = (COLS[3] + COLS[4]) / 2
ov.text(dcx, 248, 'Depths', ha='center', va='center', fontsize=36,
        family=['Liberation Mono', 'DejaVu Sans Mono'])
ov.text(dcx, 293, '（m）', ha='center', va='center', fontsize=34,
        family=['Liberation Mono', 'Noto Sans CJK SC'])

fig.savefig('out.png', dpi=100)
